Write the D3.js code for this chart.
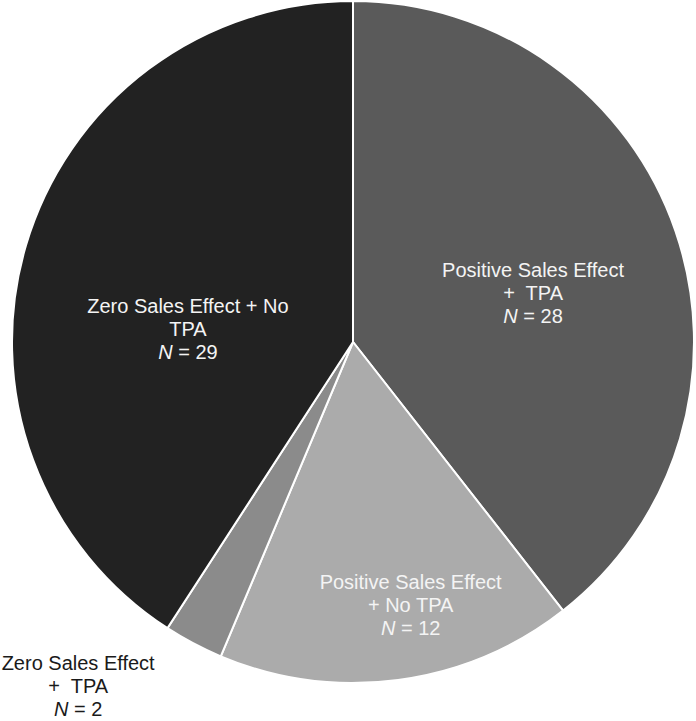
<!DOCTYPE html>
<html>
<head>
<meta charset="utf-8">
<script src="https://cdn.jsdelivr.net/npm/d3@7"></script>
<style>
  html, body { margin: 0; padding: 0; background: #ffffff; }
  svg { display: block; }
  text { font-family: "Liberation Sans", Arial, sans-serif; }
</style>
</head>
<body>
<svg id="chart" width="696" height="721"></svg>
<script>
// ---- data ----
const categories = [
  "Positive Sales Effect + TPA",
  "Positive Sales Effect + No TPA",
  "Zero Sales Effect + TPA",
  "Zero Sales Effect + No TPA"
];
const counts = [28, 12, 2, 29];
const labelLines = [
  ["Positive Sales Effect", "+  TPA"],
  ["Positive Sales Effect", "+ No TPA"],
  ["Zero Sales Effect", "+  TPA"],
  ["Zero Sales Effect + No", "TPA"]
];

// ---- presentation ----
const colors = ["#5a5a5a", "#ababab", "#8b8b8b", "#222222"];
const textColors = ["#f4f4f4", "#f4f4f4", "#1a1a1a", "#f4f4f4"];
// label anchor offsets relative to pie center, as fractions of radius
const labelOffsets = [[0.528, -0.123], [0.169, 0.792], [-0.806, 1.030], [-0.484, -0.018]];

const W = 696, H = 721;
const cx = 353, cy = 342, R = 341;

const svg = d3.select("#chart");
const g = svg.append("g").attr("transform", `translate(${cx},${cy})`);

const data = categories.map((c, i) => ({ category: c, value: counts[i], i }));
const pie = d3.pie().sort(null).value(d => d.value).startAngle(0).endAngle(2 * Math.PI);
const arc = d3.arc().innerRadius(0).outerRadius(R);
const arcs = pie(data);

g.selectAll("path.slice")
  .data(arcs)
  .join("path")
  .attr("class", "slice")
  .attr("d", arc)
  .attr("fill", d => colors[d.data.i])
  .attr("stroke", "#ffffff")
  .attr("stroke-width", 2)
  .attr("stroke-linejoin", "miter");

const fontSize = 20, lineH = 23;
const labels = g.selectAll("g.label")
  .data(arcs)
  .join("g")
  .attr("class", "label")
  .attr("transform", d => {
    const o = labelOffsets[d.data.i];
    return `translate(${o[0] * R},${o[1] * R})`;
  });

labels.each(function(d) {
  const sel = d3.select(this);
  const lines = labelLines[d.data.i];
  const col = textColors[d.data.i];
  lines.forEach((ln, k) => {
    sel.append("text")
      .attr("x", 0)
      .attr("y", (k - 1) * lineH)
      .attr("text-anchor", "middle")
      .attr("font-size", fontSize)
      .attr("fill", col)
      .style("white-space", "pre")
      .attr("xml:space", "preserve")
      .text(ln);
  });
  const t = sel.append("text")
    .attr("x", 0)
    .attr("y", 1 * lineH)
    .attr("text-anchor", "middle")
    .attr("font-size", fontSize)
    .attr("fill", col);
  t.append("tspan").attr("font-style", "italic").text("N");
  t.append("tspan").text(" = " + d.data.value);
});
</script>
</body>
</html>
